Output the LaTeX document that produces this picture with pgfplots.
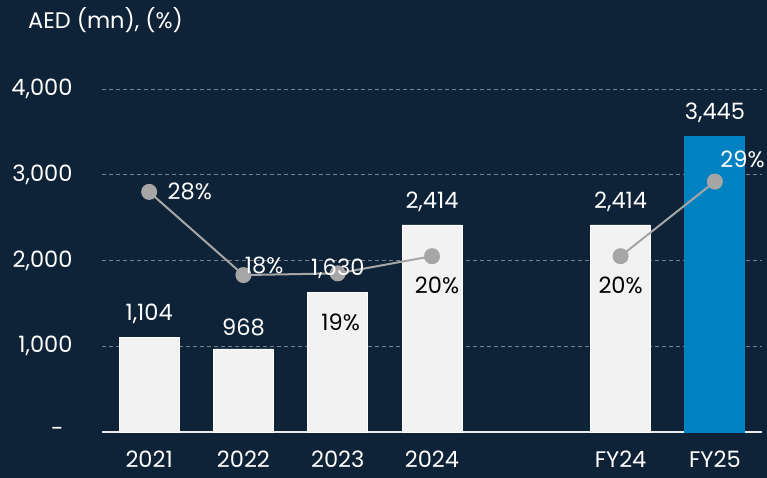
\documentclass[border=0pt]{standalone}
\usepackage{fontspec}
\setmainfont{Poppins}
\usepackage{pgfplots}
\pgfplotsset{compat=1.18}
\definecolor{bg}{RGB}{15,35,56}
\definecolor{barw}{RGB}{242,242,242}
\definecolor{barb}{RGB}{0,129,194}
\definecolor{linec}{RGB}{166,166,166}
\definecolor{gridc}{RGB}{120,128,138}
\begin{document}
\begin{tikzpicture}[font=\fontsize{22.5}{27}\selectfont]
\useasboundingbox (0,0) rectangle (767pt,478pt);
\fill[bg] (0,0) rectangle (767pt,478pt);
\clip (0,0) rectangle (767pt,478pt);
\node[anchor=west, text=white, inner sep=0pt] at (28pt,458pt) {AED (mn), (\%)};
\pgfplotsset{base/.style={at={(102pt,46pt)}, anchor=south west, scale only axis,
  width=660pt, height=343pt, xmin=-0.5, xmax=6.5, ymin=0, clip=false,
  /pgf/number format/assume math mode=true}}
% bars
\begin{axis}[base, ymax=4000,
  axis x line*=bottom, axis y line*=left,
  x axis line style={-, draw=white!85!gray, line width=1.5pt},
  y axis line style={draw=none},
  major tick length=0pt,
  xtick={0,1,2,3,5,6}, xticklabels={2021,2022,2023,2024,FY24,FY25},
  ytick={0,1000,2000,3000,4000},
  yticklabels={{-\hspace*{9pt}},{1,000},{2,000},{3,000},{4,000}},
  ymajorgrids, grid style={gridc, line width=0.8pt, dash pattern=on 4pt off 3pt},
  tick label style={text=white},
  xticklabel style={yshift=-15pt},
  yticklabel style={xshift=-26pt},
  ybar, bar width=60pt, bar shift=0pt,
]
\addplot[fill=barw, draw=white, line width=0.8pt] coordinates {(0,1104) (1,968) (2,1630) (3,2414) (5,2414)};
\addplot[fill=barb, draw=barb, line width=0.8pt] coordinates {(6,3445)};
\end{axis}
% percentage line
\begin{axis}[base, ymax=40, hide axis]
\addplot[linec, line width=2pt, mark=*, mark size=7pt, mark options={fill=linec, draw=linec}]
  coordinates {(0,28) (1,18.3) (2,18.5) (3,20.5)};
\addplot[linec, line width=2pt, mark=*, mark size=7pt, mark options={fill=linec, draw=linec}]
  coordinates {(5,20.5) (6,29.2)};
\addplot[draw=none, mark=none, nodes near coords, point meta=explicit symbolic,
  nodes near coords style={anchor=west, xshift=15pt, text=white}] coordinates {(0,28)[28\%]};
\addplot[draw=none, mark=none, nodes near coords, point meta=explicit symbolic,
  nodes near coords style={anchor=south west, xshift=-2pt, yshift=-2pt, text=white}] coordinates {(1,18.3)[18\%]};
\addplot[draw=none, mark=none, nodes near coords, point meta=explicit symbolic,
  nodes near coords style={anchor=center, xshift=3pt, yshift=-49pt, text=black}] coordinates {(2,18.5)[19\%]};
\addplot[draw=none, mark=none, nodes near coords, point meta=explicit symbolic,
  nodes near coords style={anchor=center, xshift=5pt, yshift=-29pt, text=black}] coordinates {(3,20.5)[20\%]};
\addplot[draw=none, mark=none, nodes near coords, point meta=explicit symbolic,
  nodes near coords style={anchor=center, yshift=-29pt, text=black}] coordinates {(5,20.5)[20\%]};
\addplot[draw=none, mark=none, nodes near coords, point meta=explicit symbolic,
  nodes near coords style={anchor=west, xshift=2pt, yshift=22pt, text=white}] coordinates {(6,29.2)[29\%]};
\end{axis}
% bar value labels
\begin{axis}[base, ymax=4000, hide axis]
\addplot[draw=none, mark=none, nodes near coords, point meta=y,
  nodes near coords style={anchor=south, yshift=10pt, text=white,
  /pgf/number format/.cd, 1000 sep={,}, fixed}]
  coordinates {(0,1104) (1,968) (2,1630) (3,2414) (5,2414) (6,3445)};
\end{axis}
\end{tikzpicture}
\end{document}
